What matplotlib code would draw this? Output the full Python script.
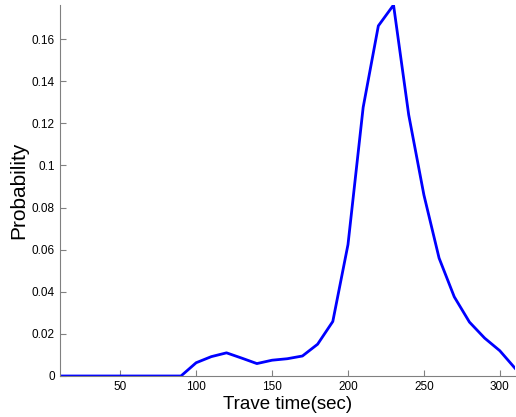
import matplotlib
matplotlib.use("Agg")
import matplotlib.pyplot as plt

# travel time (sec) and probability
times = [10, 20, 30, 40, 50, 60, 70, 80, 90, 100, 110, 120, 130, 140, 150, 160,
         170, 180, 190, 200, 210, 220, 230, 240, 250, 260, 270, 280, 290, 300, 310]
probs = [0, 0, 0, 0, 0, 0, 0, 0, 0, 0.0063, 0.0092, 0.0110, 0.0085, 0.0059, 0.0075,
         0.0082, 0.0095, 0.0151, 0.0259, 0.0624, 0.1276, 0.1663, 0.1762, 0.1240,
         0.0860, 0.0560, 0.0376, 0.0256, 0.0180, 0.0120, 0.0037]
xticks = [50, 100, 150, 200, 250, 300]
yticks = [0, 0.02, 0.04, 0.06, 0.08, 0.1, 0.12, 0.14, 0.16]

plt.rcParams['font.family'] = ['Liberation Sans', 'DejaVu Sans']

fig = plt.figure(figsize=(5.16, 4.17), dpi=100)
ax = fig.add_axes([59.5 / 516, 41 / 417, (515 - 59.5) / 516, (376 - 5) / 417])
ax.plot(times, probs, color='#0000ff', linewidth=2)

ax.set_xlim(min(times), max(times))
ax.set_ylim(0, max(probs))
ax.set_xticks(xticks)
ax.set_yticks(yticks)
ax.set_yticklabels([f"{v:g}" for v in yticks])

for s in ['top', 'right']:
    ax.spines[s].set_visible(False)
for s in ['left', 'bottom']:
    ax.spines[s].set_color('#808080')
ax.tick_params(direction='in', length=4, color='#808080', labelsize=8.5, labelcolor='black')

ax.set_xlabel('Trave time(sec)', fontsize=13.5, labelpad=2)
ax.set_ylabel('Probability', fontsize=15, labelpad=2)

fig.savefig('out.png', dpi=100)
